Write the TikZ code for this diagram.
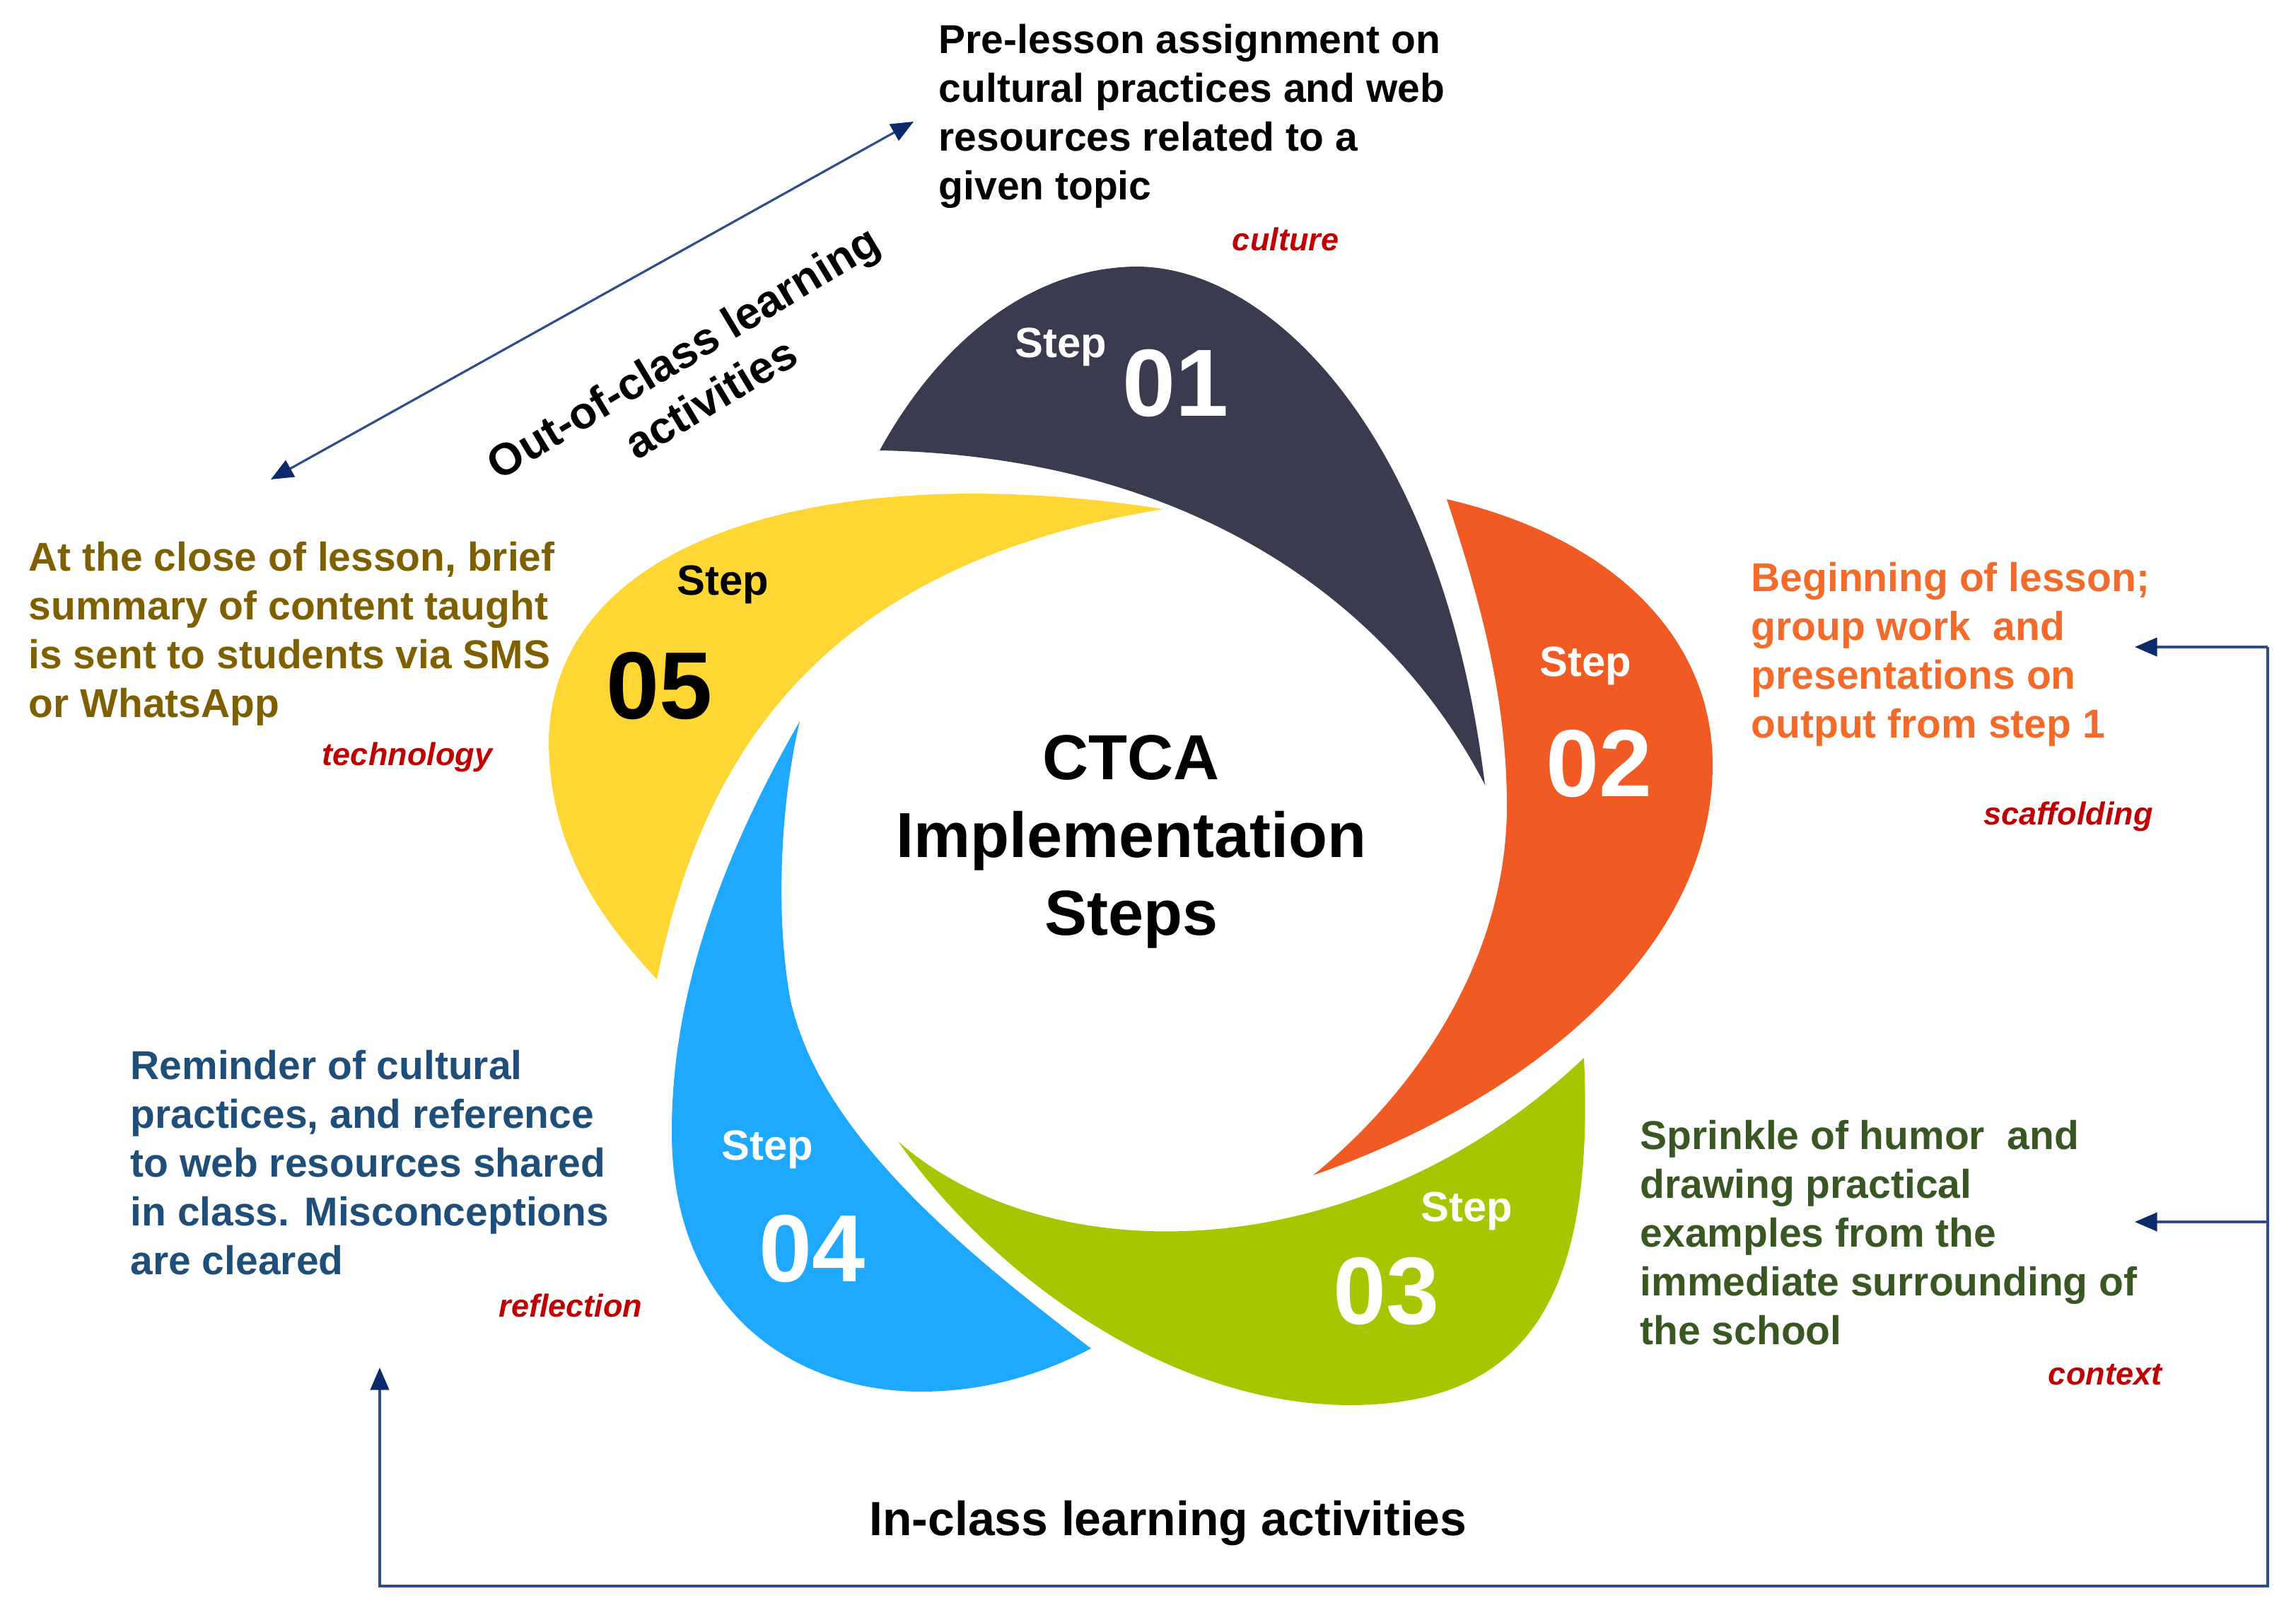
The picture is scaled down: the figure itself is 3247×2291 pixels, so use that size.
\documentclass[tikz,border=0pt]{standalone}
\usepackage{fontspec}
\setmainfont{Liberation Sans}
\usetikzlibrary{arrows.meta}
\definecolor{stepone}{HTML}{3B3B50}
\definecolor{steptwo}{HTML}{F15A22}
\definecolor{stepthree}{HTML}{A8C600}
\definecolor{stepfour}{HTML}{1EA9FF}
\definecolor{stepfive}{HTML}{FED735}
\definecolor{txtfive}{HTML}{7F6000}
\definecolor{txttwo}{HTML}{F26B2A}
\definecolor{txtthree}{HTML}{385723}
\definecolor{txtfour}{HTML}{1F4E79}
\definecolor{keyred}{HTML}{C00000}
\definecolor{linkblue}{HTML}{2E4D8C}
\definecolor{tipblue}{HTML}{0B2A6B}
\newcommand{\setfs}[2]{\fontsize{#1}{#2}\selectfont}
\tikzset{
  desc/.style={anchor=north west, inner sep=0pt, align=left, font=\bfseries\setfs{16.2pt}{19.6pt}},
  keyword/.style={inner sep=0pt, text=keyred, font=\bfseries\itshape\setfs{12.8pt}{15pt}},
  steptext/.style={inner sep=0pt, font=\bfseries\setfs{17pt}{20pt}},
  stepnum/.style={inner sep=0pt, font=\bfseries\setfs{38.4pt}{40pt}},
  link/.style={draw=linkblue, line width=0.9pt},
  tip/.style={-{Triangle[length=9pt,width=7.5pt,color=tipblue]}},
}
\begin{document}
\begin{tikzpicture}[x=0.01cm,y=-0.01cm]
    \useasboundingbox (0,0) rectangle (3247,2291);

    % the five swirls: outer edge first, then inner edge back
    \fill[stepone] (1244,637) .. controls (1330,480) and (1460,378) .. (1608,377)
        .. controls (1800,378) and (2040,620) .. (2100,1110)
        .. controls (1960,840) and (1670,645) .. (1244,637) -- cycle;
    \fill[steptwo] (2046,706) .. controls (2280,760) and (2420,900) .. (2422,1078)
        .. controls (2424,1350) and (2150,1560) .. (1857,1662)
        .. controls (2030,1520) and (2131,1330) .. (2131,1140)
        .. controls (2131,980) and (2090,840) .. (2046,706) -- cycle;
    \fill[stepthree] (2240,1496) .. controls (2255,1820) and (2170,1987) .. (1909,1987)
        .. controls (1650,1987) and (1400,1800) .. (1270,1614)
        .. controls (1480,1800) and (1920,1800) .. (2240,1496) -- cycle;
    \fill[stepfour] (1131,1020) .. controls (1010,1230) and (950,1420) .. (950,1600)
        .. controls (950,1860) and (1130,1968) .. (1302,1968)
        .. controls (1400,1968) and (1480,1940) .. (1543,1907)
        .. controls (1350,1760) and (1160,1600) .. (1118,1415)
        .. controls (1095,1290) and (1105,1130) .. (1131,1020) -- cycle;
    \fill[stepfive] (1645,720) .. controls (1200,650) and (785,745) .. (776,1045)
        .. controls (776,1200) and (850,1300) .. (929,1385)
        .. controls (990,1080) and (1150,800) .. (1645,720) -- cycle;

    % step labels
    \node[steptext, text=white] (s1) at (1500,491) {Step};
    \node[stepnum, text=white] (n1) at (1663,542) {01};
    \node[steptext, text=white] (s2) at (2242,942) {Step};
    \node[stepnum, text=white] (n2) at (2262,1080) {02};
    \node[steptext, text=white] (s3) at (2074,1713) {Step};
    \node[stepnum, text=white] (n3) at (1961,1826) {03};
    \node[steptext, text=white] (s4) at (1085,1626) {Step};
    \node[stepnum, text=white] (n4) at (1149,1766) {04};
    \node[steptext] (s5) at (1022,827) {Step};
    \node[stepnum] (n5) at (933,970) {05};

    \node[inner sep=0pt, anchor=north, align=center, font=\bfseries\setfs{25.6pt}{31.3pt}] (title) at (1600,1039)
      {CTCA\\Implementation\\Steps};

    % descriptions
    \node[desc] (pre) at (1327,34) {Pre-lesson assignment on\\cultural practices and web\\resources related to a\\given topic};
    \node[desc, text=txttwo] (begin) at (2476,795) {Beginning of lesson;\\group work~ and\\presentations on\\output from step 1};
    \node[desc, text=txtthree] (humor) at (2319,1584) {Sprinkle of humor~ and\\drawing practical\\examples from the\\immediate surrounding of\\the school};
    \node[desc, text=txtfour] (remind) at (184,1485) {Reminder of cultural\\practices, and reference\\to web resources shared\\in class. Misconceptions\\are cleared};
    \node[desc, text=txtfive] (close) at (40,766) {At the close of lesson, brief\\summary of content taught\\is sent to students via SMS\\or WhatsApp};

    \node[keyword] (culture) at (1818,338) {culture};
    \node[keyword] (scaff) at (2925,1155) {scaffolding};
    \node[keyword] (context) at (2977,1944) {context};
    \node[keyword] (reflect) at (807,1846) {reflection};
    \node[keyword] (tech) at (576,1071) {technology};

    % out-of-class arrow
    \coordinate (oca) at (383,678);
    \coordinate (ocb) at (1292,172);
    \draw[link, {Triangle[length=9pt,width=7.5pt,color=tipblue]}-{Triangle[length=9pt,width=7.5pt,color=tipblue]}] (oca) -- (ocb);
    \node[inner sep=0pt, rotate=31, align=center, font=\bfseries\setfs{18pt}{21.5pt}] (outclass) at (985,530)
      {Out-of-class learning\\activities};

    % in-class bracket
    \coordinate (brtop) at (3207,915);
    \coordinate (brmid) at (3207,1728);
    \coordinate (brbot) at (3207,2243);
    \coordinate (t2) at (3019,915);
    \coordinate (t3) at (3019,1728);
    \coordinate (t4) at (537,1934);
    \draw[link, tip] (brtop) -- (t2);
    \draw[link, tip] (brmid) -- (t3);
    \draw[link, tip] (t2 -| brtop) -- (brbot) -| (t4);
    \node[inner sep=0pt, font=\bfseries\setfs{19.3pt}{22pt}] (inclass) at (1652,2154) {In-class learning activities};
\end{tikzpicture}
\end{document}
